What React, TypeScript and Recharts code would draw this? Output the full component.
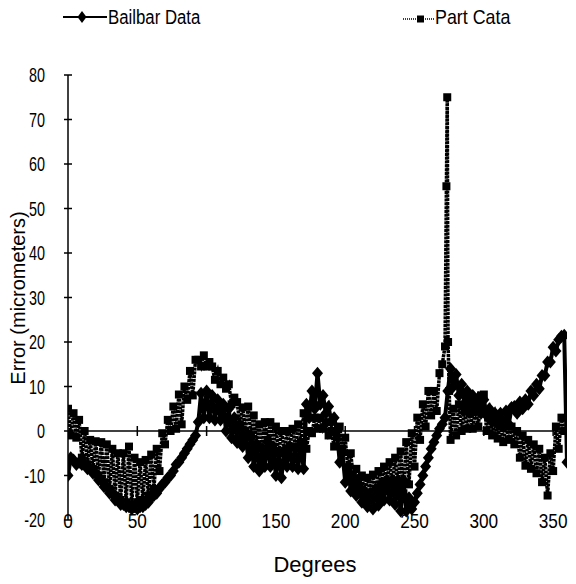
import { ComposedChart, Line, Scatter, XAxis, YAxis, ReferenceLine } from "recharts";

const SANS = "'Liberation Sans', Arial, sans-serif";

const X_TICKS = [0, 50, 100, 150, 200, 250, 300, 350];
const Y_TICKS = [-20, -10, 0, 10, 20, 30, 40, 50, 60, 70, 80];
const ZERO_TICK_DEG = [50, 100, 150, 200, 250, 300, 350];

// samples every 2 degrees, 0..360
const BAILBAR_DEG = Array.from({ length: 181 }, (_, i) => i * 2);
const BAILBAR_ERR = [
  -10, -6, -6.5, -7.5, -7, -7.5, -7.5, -8.5, -8.5, -9.5, // 0-18
  -9.5, -11, -11, -12.5, -12.5, -14, -14, -15.5, -15.5, -16.5, // 20-38
  -16.5, -17, -17, -17.5, -17, -17.5, -17, -17, -16.5, -16, // 40-58
  -15, -14.5, -14, -13, -12, -11.5, -10.5, -10, -9, -7.5, // 60-78
  -7, -6, -5, -4, -3, -2, -1, 2, 8.5, 3, // 80-98
  9, 3, 8, 2.5, 7, 2.5, 6, 0, 5, -1.5, // 100-118
  3, -2.6, 1, -3.5, -0.5, -6, -1.5, -8, -3, -9, // 120-138
  -4, -8, -2.5, -8, -4, -10, -5, -10.5, -4.5, -8, // 140-158
  -3.5, -8, -4, -8.5, -3, -8.5, 6, 3, 9, 5, // 160-178
  13, 6, 8, 4, 5.5, 2, 3, 0, -7, -5, // 180-198
  -11.5, -8, -13.5, -10.5, -14.5, -12, -16, -13.5, -17, -14, // 200-218
  -17.5, -13, -16.7, -12, -15.5, -11, -15.5, -11, -16.5, -11, // 220-238
  -18, -11, -18, -15, -17.5, -16, -14, -12, -10, -8, // 240-258
  -6, -4, -2.5, -1, 0.5, 1.5, 3, 9, 14, 10, // 260-278
  12.7, 8, 10.5, 6, 9, 5, 8, 4.5, 7.5, 4, // 280-298
  7, 3.5, 5, 2, 4, 1.5, 4, 1, 4.5, 1.5, // 300-318
  5.3, 5.5, 4, 6.5, 5, 7, 6, 9, 8, 10.5, // 320-338
  9.5, 12.5, 12.5, 15.5, 15.5, 18.8, 18, 20.5, 21.3, 21.5, // 340-358
  -7, // 360
];

// part data, same spacing plus the spike near 274 degrees
const PART_SPIKE_DEG = [273, 273.6, 274.2, 275];
const PART_DEG = [
  ...BAILBAR_DEG.filter((d) => d <= 272),
  ...PART_SPIKE_DEG,
  ...BAILBAR_DEG.filter((d) => d >= 276 && d <= 358),
];
const PART_ERR = [
  5, -1, 4, -1.5, 2.5, -6, 0, -7.5, -2, -8.5, // 0-18
  -2.3, -10, -2.5, -11.5, -3, -13, -4, -14.5, -5, -15.5, // 20-38
  -5, -16, -3.5, -16.5, -6, -16, -7, -15.5, -6.5, -14.5, // 40-58
  -5.3, -13, -4, -9, -0.5, -3, 2.5, 0, 5.5, 0.5, // 60-78
  8.2, 1.5, 10, 7, 13.5, 8, 16, 16, 14.5, 17, // 80-98
  14.5, 15.5, 14.5, 11.5, 13.5, 10.5, 12, 9.5, 10.5, 6, // 100-118
  7.5, 6.5, 1.5, 5.3, 0, 5.5, -1, 3.5, -3, 1.5, // 120-138
  -4, 2, -2, 2, -3.5, 1, -5, 0, -4.5, 0, // 140-158
  -3.5, 0.5, -3.5, 1.5, -2.5, 4, -4, 0, -0.5, 3, // 160-178
  0.5, 3, 0.5, 2, -1, 0, -3.5, -1.5, 1, -4, // 180-198
  -1.5, -9, -5, -11, -8.5, -12.5, -10, -14, -10.5, -14, // 200-218
  -9.8, -14, -9, -12, -8, -12, -7, -12, -6, -12, // 220-238
  -4.6, -14, -2.5, -12, -0.5, -8, 3, -2, 6, 1, // 240-258
  9, 3.5, 9, 4.5, 13, 15, 19, // 260-272
  55, 75, 20, 9, // spike
  -2, 5, -1, 6, 0, 4.5, 0.5, 4, 0.5, 5, // 276-294
  1, 8, 8.2, 0, 3, -1, 2.5, -1.7, 2, -2.5, // 296-314
  1.5, -2, 1, -3, 0, -6, -1, -7.8, -2, -8.5, // 316-334
  -3, -9.5, -4, -11.5, -6, -14.5, -5, -9, 1, -4, // 336-354
  3, 0, // 356-358
];

const bailbarData = BAILBAR_DEG.map((deg, i) => ({ deg, err: BAILBAR_ERR[i] }));
const partData = PART_DEG.map((deg, i) => ({ deg, err: PART_ERR[i] }));
const zeroTicks = ZERO_TICK_DEG.map((deg) => ({ deg, err: 0 }));

const Y_TICK_SIZE = 4;
const Y_TICK_MARGIN = 19;

// condensed text: Arial-metric font squeezed horizontally
function NarrowText({ x, y, size, squeeze, anchor, children }: any) {
  return (
    <text
      transform={`translate(${x},${y}) scale(${squeeze},1)`}
      textAnchor={anchor}
      fontFamily={SANS}
      fontSize={size}
      fill="#000"
    >
      {children}
    </text>
  );
}

function Diamond(p: any) {
  const { cx, cy } = p;
  if (cx == null || cy == null) return null;
  return (
    <path
      key={`d-${p.index}`}
      d={`M${cx},${cy - 6.5}L${cx + 5.5},${cy}L${cx},${cy + 6.5}L${cx - 5.5},${cy}Z`}
      fill="#000"
    />
  );
}

function Square(p: any) {
  const { cx, cy } = p;
  if (cx == null || cy == null) return null;
  return <rect key={`s-${p.index}`} x={cx - 4} y={cy - 4} width={8} height={8} fill="#000" />;
}

function Cross(p: any) {
  const { cx, cy } = p;
  return <line x1={cx} x2={cx} y1={cy - 5} y2={cy + 5} stroke="#000" strokeWidth={1.5} />;
}

function YTick(p: any) {
  const { x, y, payload } = p;
  const axisX = x + Y_TICK_SIZE + Y_TICK_MARGIN;
  return (
    <g>
      <line x1={axisX - 4} x2={axisX + 4} y1={y} y2={y} stroke="#000" strokeWidth={1.5} />
      <NarrowText x={x} y={y + 7} size={20} squeeze={0.72} anchor="end">
        {payload.value}
      </NarrowText>
    </g>
  );
}

function XTick(p: any) {
  const { x, y, payload } = p;
  return (
    <NarrowText x={x} y={y + 8} size={21} squeeze={0.82} anchor="middle">
      {payload.value}
    </NarrowText>
  );
}

export default function App() {
  return (
    <div style={{ position: "absolute", left: 0, top: 0, width: 576, height: 584, background: "#fff" }}>
      {/* legend */}
      <svg width={576} height={40} style={{ position: "absolute", left: 0, top: 0 }}>
        <line x1={63} x2={107} y1={17} y2={17} stroke="#000" strokeWidth={2} />
        <path d="M82,11L86.5,17L82,23L77.5,17Z" fill="#000" />
        <NarrowText x={108} y={24} size={21} squeeze={0.8} anchor="start">
          Bailbar Data
        </NarrowText>
        <line x1={403} x2={434} y1={19} y2={19} stroke="#000" strokeWidth={1.5} strokeDasharray="1 1" />
        <rect x={417} y={15.5} width={7} height={7} fill="#000" />
        <NarrowText x={435} y={24} size={21} squeeze={0.85} anchor="start">
          Part Cata
        </NarrowText>
      </svg>

      <ComposedChart width={576} height={584} margin={{ top: 75, right: 9, bottom: 34, left: 8 }}>
        <XAxis
          type="number"
          dataKey="deg"
          domain={[0, 360]}
          ticks={X_TICKS}
          height={30}
          axisLine={false}
          tickLine={false}
          tickSize={0}
          tickMargin={0}
          tick={<XTick />}
          interval={0}
          allowDataOverflow
        />
        <YAxis
          type="number"
          dataKey="err"
          domain={[-20, 80]}
          ticks={Y_TICKS}
          width={60}
          axisLine={{ stroke: "#000", strokeWidth: 1.5 }}
          tickLine={false}
          tickSize={Y_TICK_SIZE}
          tickMargin={Y_TICK_MARGIN}
          tick={<YTick />}
          interval={0}
          allowDataOverflow
        />
        <ReferenceLine y={0} stroke="#000" strokeWidth={1.5} />
        <Scatter data={zeroTicks} dataKey="err" shape={<Cross />} isAnimationActive={false} legendType="none" />
        <Line
          data={partData}
          dataKey="err"
          type="linear"
          stroke="#000"
          strokeWidth={3.5}
          strokeDasharray="3 0.8"
          dot={Square}
          activeDot={false}
          isAnimationActive={false}
        />
        <Line
          data={bailbarData}
          dataKey="err"
          type="linear"
          stroke="#000"
          strokeWidth={4}
          dot={Diamond}
          activeDot={false}
          isAnimationActive={false}
        />
      </ComposedChart>

      <div
        style={{
          position: "absolute",
          left: 18,
          top: 298,
          transform: "translate(-50%, -50%) rotate(-90deg)",
          whiteSpace: "nowrap",
          fontFamily: SANS,
          fontSize: 20,
          color: "#000",
        }}
      >
        Error (micrometers)
      </div>
      <div
        style={{
          position: "absolute",
          left: 315,
          top: 565,
          transform: "translate(-50%, -50%)",
          whiteSpace: "nowrap",
          fontFamily: SANS,
          fontSize: 22,
          color: "#000",
        }}
      >
        Degrees
      </div>
    </div>
  );
}
